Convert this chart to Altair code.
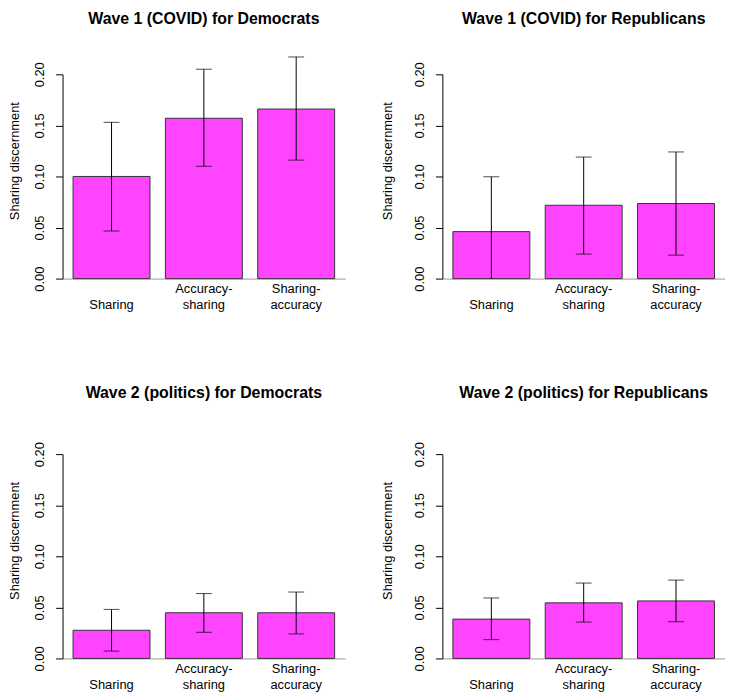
import altair as alt
import pandas as pd

categories = ["Sharing", "Accuracy-sharing", "Sharing-accuracy"]

titles = [
    "Wave 1 (COVID) for Democrats",
    "Wave 1 (COVID) for Republicans",
    "Wave 2 (politics) for Democrats",
    "Wave 2 (politics) for Republicans",
]

# bar heights (sharing discernment)
w1_dem_mean = [0.100, 0.157, 0.166]
w1_rep_mean = [0.046, 0.0718, 0.0735]
w2_dem_mean = [0.0276, 0.0447, 0.0447]
w2_rep_mean = [0.0385, 0.0544, 0.0563]

# lower ends of the error bars
w1_dem_lo = [0.0466, 0.110, 0.116]
w1_rep_lo = [-0.008, 0.024, 0.023]
w2_dem_lo = [0.0072, 0.0256, 0.024]
w2_rep_lo = [0.0184, 0.0356, 0.0359]

# upper ends of the error bars
w1_dem_hi = [0.153, 0.205, 0.217]
w1_rep_hi = [0.0997, 0.119, 0.124]
w2_dem_hi = [0.048, 0.0635, 0.065]
w2_rep_hi = [0.0592, 0.0738, 0.0767]

y_ticks = [0.0, 0.05, 0.10, 0.15, 0.20]

FONT = "Liberation Sans"
FILL = "#ff44ff"
W, H = 285, 206

label_expr = (
    "indexof(datum.label, '-') > 0 ? "
    "[slice(datum.label, 0, indexof(datum.label, '-') + 1), "
    "slice(datum.label, indexof(datum.label, '-') + 1)] : ['', datum.label]"
)


def panel(title, mean, lo, hi, left_col, title_y):
    df = pd.DataFrame({"cat": categories, "mean": mean, "lo": lo, "hi": hi})
    base = alt.Chart(df)
    xscale = alt.Scale(paddingInner=0.1667, paddingOuter=0.114)
    xaxis = alt.Axis(
        title=None,
        labelAngle=0,
        labelExpr=label_expr,
        labelFont=FONT,
        labelFontSize=13,
        labelColor="black",
        labelLineHeight=16,
        labelBaseline="alphabetic",
        labelPadding=14.5,
        ticks=False,
        tickSize=0,
        domainColor="#999999",
        domainWidth=1,
    )
    yscale = alt.Scale(domain=[0, 0.2], nice=False, zero=True)
    yaxis = alt.Axis(
        title="Sharing discernment",
        values=y_ticks,
        format=".2f",
        grid=False,
        domainColor="black",
        tickColor="black",
        tickSize=7,
        labelAngle=270,
        labelAlign="center",
        labelBaseline="bottom",
        labelPadding=9,
        labelFont=FONT,
        labelFontSize=13,
        labelColor="black",
        titleFont=FONT,
        titleFontSize=13,
        titleFontWeight="normal",
        titleColor="black",
        titleAngle=270,
        titleAlign="center",
        titleBaseline="middle",
        titleX=-48.5 if left_col else -55,
        titleY=87,
    )

    def X():
        return alt.X("cat:N", sort=categories, scale=xscale, axis=xaxis)

    def Y(field):
        return alt.Y(field, scale=yscale, axis=yaxis, title="Sharing discernment")

    bars = base.mark_bar(fill=FILL, stroke="#333333", strokeWidth=1).encode(
        x=X(), y=Y("mean:Q")
    )
    rule = (
        base.transform_calculate(lo_c="max(datum.lo, 0)")
        .mark_rule(color="black", strokeWidth=1)
        .encode(x=X(), y=Y("lo_c:Q"), y2="hi:Q")
    )
    cap_hi = base.mark_tick(color="black", size=16, thickness=1).encode(
        x=X(), y=Y("hi:Q")
    )
    cap_lo = (
        base.transform_filter("datum.lo >= 0")
        .mark_tick(color="black", size=16, thickness=1)
        .encode(x=X(), y=Y("lo:Q"))
    )
    head = (
        alt.Chart(pd.DataFrame({"t": [title]}))
        .mark_text(
            font=FONT,
            fontSize=16,
            fontWeight="bold",
            color="black",
            align="center",
            baseline="alphabetic",
        )
        .encode(text="t:N", x=alt.value(W / 2), y=alt.value(title_y))
    )
    return alt.layer(bars, rule, cap_hi, cap_lo, head).properties(width=W, height=H)


p1 = panel(titles[0], w1_dem_mean, w1_dem_lo, w1_dem_hi, True, -51)
p2 = panel(titles[1], w1_rep_mean, w1_rep_lo, w1_rep_hi, False, -51)
p3 = panel(titles[2], w2_dem_mean, w2_dem_lo, w2_dem_hi, True, -57)
p4 = panel(titles[3], w2_rep_mean, w2_rep_lo, w2_rep_hi, False, -57)

chart = (
    alt.concat(p1, p2, p3, p4, columns=2, spacing={"row": 177, "column": 98}, bounds="flush")
    .properties(padding={"left": 0, "top": 0, "right": 0, "bottom": 0}, background="white")
    .configure_view(stroke=None)
)

chart.save("out.html", embed_options={"renderer": "svg", "actions": False})
